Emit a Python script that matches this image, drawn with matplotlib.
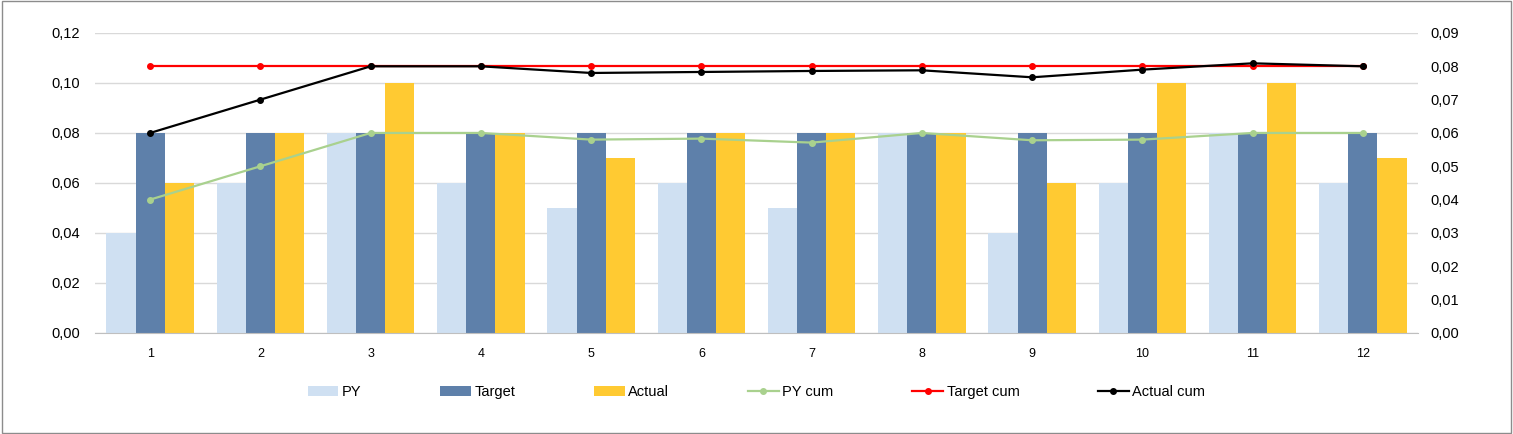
import numpy as np
import matplotlib as mpl
import matplotlib.pyplot as plt
from matplotlib.ticker import FuncFormatter, MultipleLocator

months = [str(m) for m in range(1, 13)]
py = [0.04, 0.06, 0.08, 0.06, 0.05, 0.06, 0.05, 0.08, 0.04, 0.06, 0.08, 0.06]
target = [0.08] * 12
actual = [0.06, 0.08, 0.10, 0.08, 0.07, 0.08, 0.08, 0.08, 0.06, 0.10, 0.10, 0.07]
py_cum = [0.04, 0.05, 0.06, 0.06, 0.058, 0.0583, 0.0571, 0.06, 0.0578, 0.058, 0.06, 0.06]
target_cum = [0.08] * 12
actual_cum = [0.06, 0.07, 0.08, 0.08, 0.078, 0.0783, 0.0786, 0.0788, 0.0767, 0.079, 0.0809, 0.08]

plt.rcParams['font.family'] = ['Liberation Sans', 'DejaVu Sans']
plt.rcParams['font.size'] = 10.5

fig = plt.figure(figsize=(15.13, 4.34), dpi=100)
ax = fig.add_axes([0.0628, 0.233, 0.8744, 0.691])
ax2 = ax.twinx()

x = np.arange(len(months))
w = 0.265
ax.bar(x - w, py, w, color='#cfe0f2', label='PY', zorder=2)
ax.bar(x, target, w, color='#5e80aa', label='Target', zorder=2)
ax.bar(x + w, actual, w, color='#ffca32', label='Actual', zorder=2)

ax2.plot(x, py_cum, color='#a9d18e', lw=1.6, marker='o', ms=4, label='PY cum')
ax2.plot(x, target_cum, color='#ff0000', lw=1.6, marker='o', ms=4, label='Target cum')
ax2.plot(x, actual_cum, color='#000000', lw=1.6, marker='o', ms=4, label='Actual cum')

comma = FuncFormatter(lambda v, p: f'{v:.2f}'.replace('.', ','))
ax.set_ylim(0, 0.12)
ax.yaxis.set_major_locator(MultipleLocator(0.02))
ax.yaxis.set_major_formatter(comma)
ax2.set_ylim(0, 0.09)
ax2.yaxis.set_major_locator(MultipleLocator(0.01))
ax2.yaxis.set_major_formatter(comma)

ax.set_xlim(-0.5, 11.5)
ax.set_xticks(x)
ax.set_xticklabels(months, fontsize=9)
ax.grid(axis='y', color='#d9d9d9', lw=1, zorder=0)
ax.set_axisbelow(True)

for a in (ax, ax2):
    for s in a.spines.values():
        s.set_visible(False)
    a.tick_params(length=0, colors='#000000')
ax.spines['bottom'].set_visible(True)
ax.spines['bottom'].set_color('#bfbfbf')
ax.tick_params(axis='y', pad=11)
ax.tick_params(axis='x', pad=11)
ax2.tick_params(axis='y', pad=9)

h1, l1 = ax.get_legend_handles_labels()
h2, l2 = ax2.get_legend_handles_labels()
fig.legend(h1 + h2, l1 + l2, loc='center', bbox_to_anchor=(0.5, 0.097), ncol=6,
           frameon=False, handlelength=2.1, handletextpad=0.25, columnspacing=5.4)

fig.add_artist(plt.Rectangle((0.001, 0.002), 0.998, 0.996, transform=fig.transFigure,
                             fill=False, edgecolor='#8c8c8c', lw=1))

plt.savefig('out.png', dpi=100)
